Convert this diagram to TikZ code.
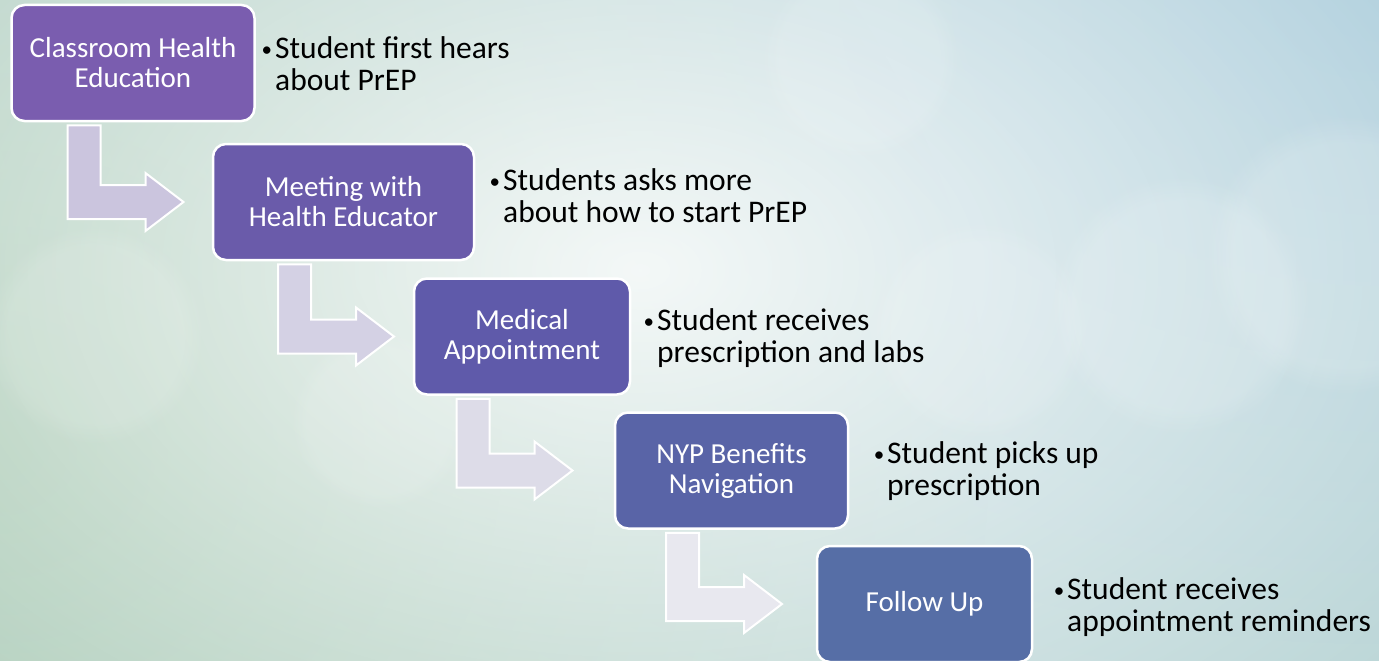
\documentclass[tikz,border=0pt]{standalone}
\usepackage{fontspec}
\setmainfont{Carlito}
\usetikzlibrary{calc,fadings}
\tikzfading[name=softglow, inner color=transparent!0, outer color=transparent!100]
\definecolor{bgbase}{HTML}{C4DBD5}
\definecolor{bgblue}{HTML}{ABCDDC}
\definecolor{bggreen}{HTML}{AECDB8}
\definecolor{boxA}{HTML}{7A5DAF}
\definecolor{boxB}{HTML}{6A5BAA}
\definecolor{boxC}{HTML}{5F5AAA}
\definecolor{boxD}{HTML}{5964A7}
\definecolor{boxE}{HTML}{566EA6}
\definecolor{arrA}{HTML}{CBC5DE}
\definecolor{arrB}{HTML}{D4D1E4}
\definecolor{arrC}{HTML}{DDDCE8}
\definecolor{arrD}{HTML}{E8E8EF}
\newcommand\flowarrow[3]{%
  \path[flow, fill=#3] let \p1=(#1.south), \p2=(#2.west) in
    (\x1-65.5pt,\y1-3pt) -- (\x1-32.5pt,\y1-3pt) -- (\x1-32.5pt,\y2+17pt)
    -- (\x1+12.5pt,\y2+17pt) -- (\x1+12.5pt,\y2+29pt) -- (\x1+50.5pt,\y2)
    -- (\x1+12.5pt,\y2-29pt) -- (\x1+12.5pt,\y2-17pt) -- (\x1-65.5pt,\y2-17pt) -- cycle;}
\newcommand\bul{\llap{\raisebox{2pt}{\fontsize{21}{21}\selectfont •}\hspace{3pt}}}
\begin{document}
\begin{tikzpicture}[x=1pt,y=-1pt,
  stepbox/.style={draw=white, line width=2.5pt, rounded corners=13pt, text=white,
    align=center, font=\fontsize{29}{30}\selectfont, minimum height=116pt, inner sep=0pt},
  note/.style={anchor=north west, inner sep=0pt, align=left,
    font=\fontsize{31.5}{32}\selectfont, text=black},
  flow/.style={draw=white, line width=2pt, line join=miter},
  bokeh/.style={fill=white, path fading=circle with fuzzy edge 20 percent}]
\useasboundingbox (0,0) rectangle (1379,661);
% background
\begin{scope}
  \clip (0,0) rectangle (1379,661);
  \fill[bgbase] (0,0) rectangle (1379,661);
  \fill[bgblue, path fading=softglow] (1379,0) ellipse [x radius=1500pt, y radius=1000pt];
  \fill[bggreen, path fading=softglow] (0,450) ellipse [x radius=1000pt, y radius=900pt];
  \fill[white, opacity=0.85, path fading=softglow] (640,270) ellipse [x radius=1000pt, y radius=640pt];
  \fill[bokeh, opacity=0.15] (1180,305) circle [radius=130pt];
  \fill[bokeh, opacity=0.15] (1345,255) circle [radius=140pt];
  \fill[bokeh, opacity=0.12] (95,335) circle [radius=110pt];
  \fill[bokeh, opacity=0.12] (380,420) circle [radius=90pt];
  \fill[bokeh, opacity=0.12] (860,60) circle [radius=100pt];
  \fill[bokeh, opacity=0.12] (980,330) circle [radius=110pt];
\end{scope}
% boxes
\node[stepbox, fill=boxA, minimum width=243pt] (b1) at (133,63) {Classroom Health\\Education};
\node[stepbox, fill=boxB, minimum width=261pt] (b2) at (343.5,202) {Meeting with\\Health Educator};
\node[stepbox, fill=boxC, minimum width=216pt] (b3) at (522,336.5) {Medical\\Appointment};
\node[stepbox, fill=boxD, minimum width=233pt] (b4) at (731.5,470.5) {NYP Benefits\\Navigation};
\node[stepbox, fill=boxE, minimum width=215pt] (b5) at (924.5,604) {Follow Up};
% arrows
\flowarrow{b1}{b2}{arrA}
\flowarrow{b2}{b3}{arrB}
\flowarrow{b3}{b4}{arrC}
\flowarrow{b4}{b5}{arrD}
% notes
\node[note] (n1) at (275,36) {\bul Student first hears\\about PrEP};
\node[note] (n2) at (503,168) {\bul Students asks more\\about how to start PrEP};
\node[note] (n3) at (657,308) {\bul Student receives\\prescription and labs};
\node[note] (n4) at (887,441) {\bul Student picks up\\prescription};
\node[note] (n5) at (1067,577) {\bul Student receives\\appointment reminders};
\end{tikzpicture}
\end{document}
